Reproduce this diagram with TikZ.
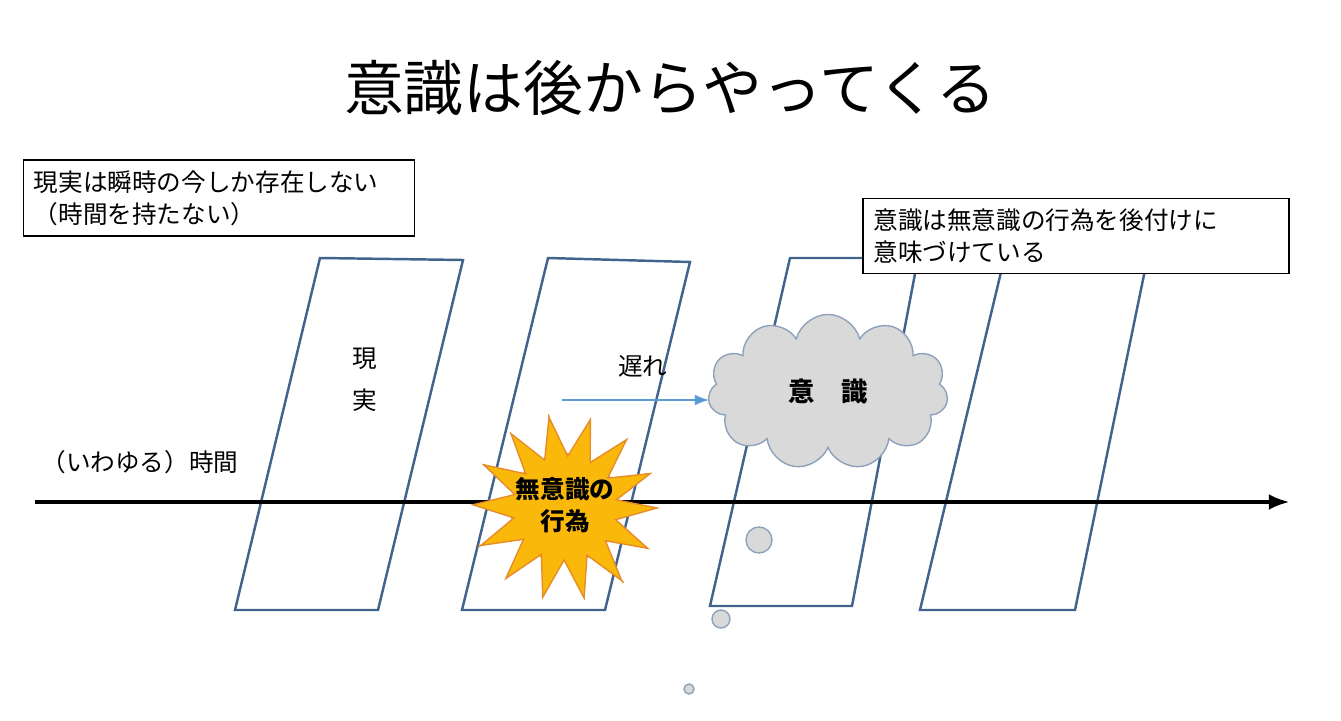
\documentclass[tikz,border=0pt]{standalone}
\usepackage{fontspec}
\setmainfont{Noto Sans CJK JP}
\usetikzlibrary{shapes.symbols,arrows.meta}
\definecolor{frameblue}{RGB}{65,100,140}
\definecolor{starfill}{RGB}{250,185,10}
\definecolor{starline}{RGB}{230,140,40}
\definecolor{cloudfill}{RGB}{217,217,217}
\definecolor{lagblue}{RGB}{91,155,213}
\begin{document}
\begin{tikzpicture}[x=0.01cm,y=-0.01cm,font=\fontsize{7}{9}\selectfont,
  frame/.style={draw=frameblue,line width=0.7pt},
  notebox/.style={draw,thin,fill=white,align=left,inner sep=3pt},
  bubble/.style={circle,draw=frameblue!60,fill=cloudfill,thin,inner sep=0pt}]
\useasboundingbox (0,0) rectangle (1341,721);
% time slices
\draw[frame] (320,258) -- (463,260) -- (378,610) -- (235,610) -- cycle;
\draw[frame] (548,258) -- (690,262) -- (605,610) -- (462,610) -- cycle;
\draw[frame] (790,258) -- (918,258) -- (852,606) -- (710,606) -- cycle;
\draw[frame] (1002,268) -- (1145,270) -- (1075,610) -- (920,610) -- cycle;
% time axis
\coordinate (t0) at (35,502);
\coordinate (t1) at (1290,502);
\draw[line width=1.3pt,-{Latex[length=6pt]}] (t0) -- (t1);
\node (title) at (670,88) {\fontsize{17}{20}\selectfont 意識は後からやってくる};
\node[notebox,text width=3.7cm] (now) at (219,198) {現実は瞬時の今しか存在しない\\（時間を持たない）};
\node[notebox,text width=4.05cm] (late) at (1076,236) {意識は無意識の行為を後付けに\\意味づけている};
\node[align=center] (real) at (365,380) {現\\[3pt]実};
\node (time) at (140,462) {（いわゆる）時間};
% burst
\draw[draw=starline,fill=starfill,thin] (565,508)
  \foreach \a/\r in {0/92,13/52,26/88,39/50,52/95,65/55,78/90,91/50,104/92,117/55,130/88,143/50,156/95,169/55,
                     182/90,195/50,208/92,221/55,234/88,247/50,260/95,273/55,286/90,299/50,312/92,325/55,338/88,351/52}
    {-- ++(\a:\r) -- (565,508)} ;
\fill[starfill] (565,508) circle (0.5cm);
\path[draw=starline,fill=starfill,thin]
  plot[samples at={0,13,...,351},variable=\a] ({565+(mod(\a,26)==0 ? 92 : 52)*cos(\a)},{508+(mod(\a,26)==0 ? 92 : 52)*sin(\a)}) -- cycle;
\node[align=center,font=\fontsize{7}{9}\selectfont\bfseries] (act) at (565,505) {無意識の\\行為};
\node[cloud,cloud puffs=11,aspect=1.6,minimum width=2.4cm,minimum height=1.55cm,
  draw=frameblue!60,fill=cloudfill,thin,font=\fontsize{7.5}{9}\selectfont\bfseries] (mind) at (828,392) {意\quad 識};
\node[bubble,minimum size=0.26cm] (b1) at (759,540) {};
\node[bubble,minimum size=0.18cm] (b2) at (721,619) {};
\node[bubble,minimum size=0.1cm] (b3) at (689,689) {};
\coordinate (lag0) at (562,400);
\draw[lagblue,thin,-{Latex[length=4pt]}] (lag0) -- (lag0 -| mind.west) node[pos=0.55,above=3pt,black] (lag) {遅れ};
\end{tikzpicture}
\end{document}
